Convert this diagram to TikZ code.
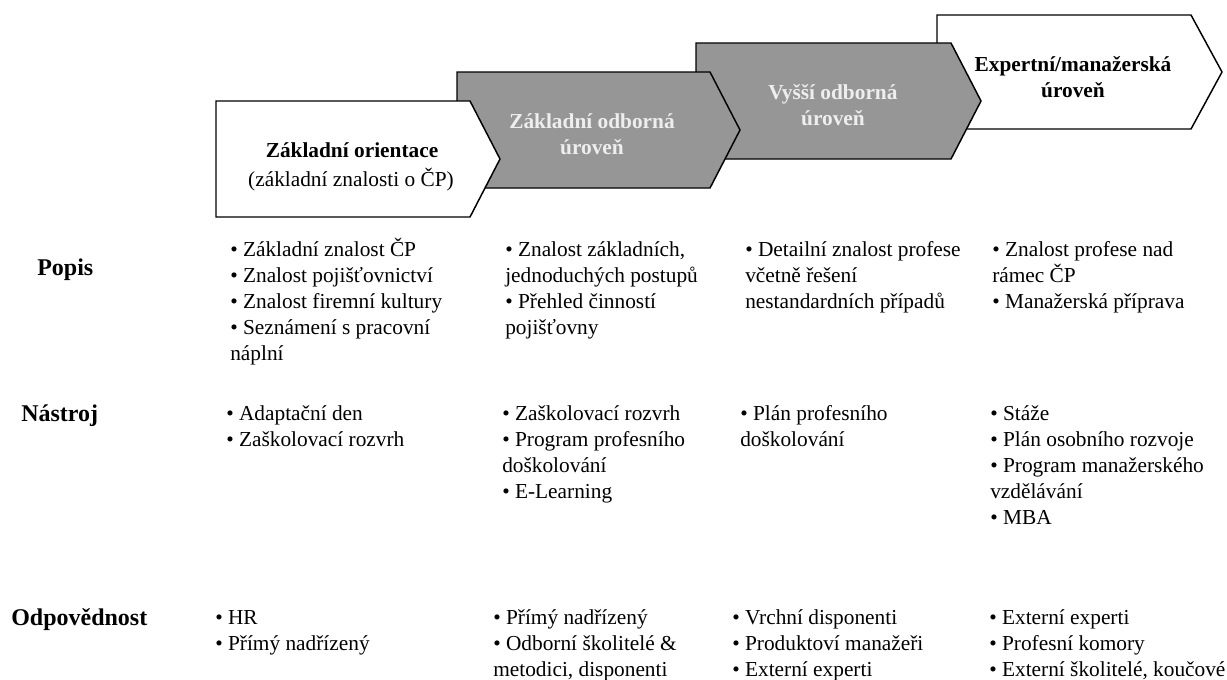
\documentclass[tikz,border=0pt]{standalone}
\usepackage{fontspec}
\setmainfont{Liberation Serif}
\definecolor{boxgray}{RGB}{150,150,150}
\definecolor{lighttxt}{RGB}{238,238,238}
\newcommand{\ls}[1]{\begin{tabular}[t]{@{}l@{}}#1\end{tabular}}
\newcommand{\cs}[1]{\begin{tabular}[t]{@{}c@{}}#1\end{tabular}}
\tikzset{
  lvl/.style={draw=black, line width=1.1pt, line join=miter},
  lbl/.style={font=\fontsize{18}{21}\selectfont\bfseries, anchor=base west, inner sep=0pt},
  itm/.style={font=\fontsize{16}{19.5}\selectfont, anchor=base west, inner sep=0pt},
  ttl/.style={font=\fontsize{16}{19.5}\selectfont\bfseries, anchor=base, inner sep=0pt},
  sub/.style={font=\fontsize{16}{19.5}\selectfont, anchor=base, inner sep=0pt},
}
\begin{document}
\begin{tikzpicture}[x=0.75pt,y=-0.75pt]
\useasboundingbox (0,0) rectangle (1227,679);
% chevrons (back to front)
\draw[lvl, fill=white]   (937,15)  -- (1191,15)  -- (1222,72)  -- (1191,129) -- (937,129) -- cycle;
\draw[lvl, fill=boxgray] (696,43)  -- (951,43)   -- (981,101)  -- (951,159)  -- (696,159) -- cycle;
\draw[lvl, fill=boxgray] (457,72)  -- (710,72)   -- (740,130)  -- (710,188)  -- (457,188) -- cycle;
\draw[lvl, fill=white]   (216,101) -- (470,101)  -- (500,159)  -- (470,217)  -- (216,217) -- cycle;
% chevron texts
\node[ttl] (t1a) at (352,157) {Základní orientace};
\node[sub] (t1b) at (351,186) {(základní znalosti o ČP)};
\node[ttl, text=lighttxt] (t2) at (592,128) {\cs{Základní odborná\\úroveň}};
\node[ttl, text=lighttxt] (t3) at (833,99) {\cs{Vyšší odborná\\úroveň}};
\node[ttl] (t4) at (1073,71) {\cs{Expertní/manažerská\\úroveň}};
% row labels
\node[lbl] (popis) at (37,275) {Popis};
\node[lbl] (nastroj) at (21,421) {Nástroj};
\node[lbl] (odp) at (11,625) {Odpovědnost};
% Popis
\node[itm] (p1) at (230,256) {\ls{• Základní znalost ČP\\• Znalost pojišťovnictví\\• Znalost firemní kultury\\• Seznámení s pracovní\\náplní}};
\node[itm] (p2) at (505,256) {\ls{• Znalost základních,\\jednoduchých postupů\\• Přehled činností\\pojišťovny}};
\node[itm] (p3) at (745,256) {\ls{• Detailní znalost profese\\včetně řešení\\nestandardních případů}};
\node[itm] (p4) at (992,256) {\ls{• Znalost profese nad\\rámec ČP\\• Manažerská příprava}};
% Nastroj
\node[itm] (n1) at (226,420) {\ls{• Adaptační den\\• Zaškolovací rozvrh}};
\node[itm] (n2) at (502,420) {\ls{• Zaškolovací rozvrh\\• Program profesního\\doškolování\\• E-Learning}};
\node[itm] (n3) at (740,420) {\ls{• Plán profesního\\doškolování}};
\node[itm] (n4) at (990,420) {\ls{• Stáže\\• Plán osobního rozvoje\\• Program manažerského\\vzdělávání\\• MBA}};
% Odpovednost
\node[itm] (o1) at (215,624) {\ls{• HR\\• Přímý nadřízený}};
\node[itm] (o2) at (493,624) {\ls{• Přímý nadřízený\\• Odborní školitelé \&\\metodici, disponenti}};
\node[itm] (o3) at (732,624) {\ls{• Vrchní disponenti\\• Produktoví manažeři\\• Externí experti}};
\node[itm] (o4) at (989,624) {\ls{• Externí experti\\• Profesní komory\\• Externí školitelé, koučové}};
\end{tikzpicture}
\end{document}
